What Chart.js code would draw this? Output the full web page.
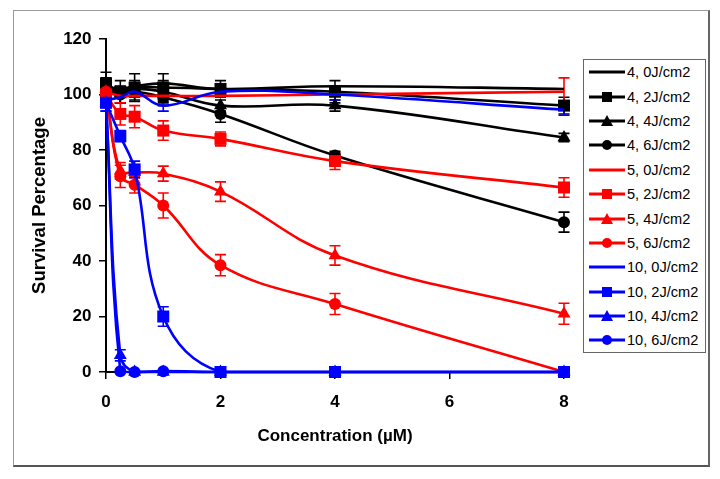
<!DOCTYPE html>
<html>
<head>
<meta charset="utf-8">
<script src="https://cdn.jsdelivr.net/npm/chart.js@4"></script>
<style>
body { margin: 0; background: #fff; }
#wrap { position: relative; width: 720px; height: 479px; }
#frame { position: absolute; left: 13px; top: 10px; width: 694px; height: 454px;
  border: 1px solid #9a9a9a; border-right: 2px solid #666; border-bottom: 2px solid #555; }
#grafico { position: absolute; left: 0; top: 0; }
#legenda { position: absolute; left: 583px; top: 59px; width: 121px; height: 292px;
  border: 1px solid #666; background: #fff;
  font-family: "Liberation Sans", Arial, sans-serif; font-size: 14.6px; color: #000; }
.item { height: 24.4px; display: flex; align-items: center; white-space: nowrap; }
.item svg { margin-left: 5px; margin-right: 2px; flex: none; }
</style>
</head>
<body>
<div id="wrap">
  <div id="frame"></div>
  <canvas id="grafico" width="720" height="479"></canvas>
  <div id="legenda"></div>
</div>
<script>
// concentração (µM)
const conc = [0, 0.25, 0.5, 1, 2, 4, 8]

// sobrevivência (%) por série
const s4_0J = [103, 102, 103, 104, 102, 103, 102]
const s4_2J = [104, 101, 102.5, 102.5, 102, 101, 96]
const s4_4J = [102, 100, 102, 101, 96, 96, 84.5]
const s4_6J = [103, 100, 101, 99, 93, 78, 54]
const s5_0J = [101, 99.5, 99.5, 99.5, 99.5, 100, 101]
const s5_2J = [100, 93, 92, 87, 84, 76, 66.5]
const s5_4J = [101, 72.5, 72, 71.5, 65, 42, 21]
const s5_6J = [101, 70.5, 67.5, 60, 38.5, 24.5, 0]
const s10_0J = [98, 99, 101, 96, 101, 100, 94.5]
const s10_2J = [97, 85, 73, 20, 0, 0, 0]
const s10_4J = [97, 6, 0, 0, 0, 0, 0]
const s10_6J = [97, 0.3, 0, 0.3, 0, 0, 0]

// barras de erro (±)
const e4_0J = [0, 0, 0, 0, 0, 0, 0]
const e4_2J = [4, 4, 5, 5, 3, 4, 3]
const e4_4J = [3, 3, 3, 4, 2, 2, 1.5]
const e4_6J = [3, 3, 3, 3, 3, 1.5, 3.6]
const e5_0J = [0, 0, 0, 0, 0, 0, 5]
const e5_2J = [3, 4, 4, 3.5, 2.5, 3, 3.5]
const e5_4J = [3, 3, 2, 2.7, 3.5, 3.5, 3.8]
const e5_6J = [3, 4, 3, 4.5, 3.8, 3.8, 0]
const e10_0J = [0, 0, 0, 2, 0, 2, 2]
const e10_2J = [3, 2, 3, 3.5, 0, 0, 0]
const e10_4J = [3, 2, 0, 0, 0, 0, 0]
const e10_6J = [0, 0, 0, 0, 0, 0, 0]

const nomes = ["4, 0J/cm2", "4, 2J/cm2", "4, 4J/cm2", "4, 6J/cm2",
               "5, 0J/cm2", "5, 2J/cm2", "5, 4J/cm2", "5, 6J/cm2",
               "10, 0J/cm2", "10, 2J/cm2", "10, 4J/cm2", "10, 6J/cm2"]
const valores = [s4_0J, s4_2J, s4_4J, s4_6J, s5_0J, s5_2J, s5_4J, s5_6J, s10_0J, s10_2J, s10_4J, s10_6J]
const erros = [e4_0J, e4_2J, e4_4J, e4_6J, e5_0J, e5_2J, e5_4J, e5_6J, e10_0J, e10_2J, e10_4J, e10_6J]

const cores = ["#000000", "#ff0000", "#0000ff"]
const marcas = [false, "rect", "triangle", "circle"]
const raios = { rect: 8.5, triangle: 7.5, circle: 6 }

const fonte = '"Liberation Sans", Arial, sans-serif'

const datasets = valores.map((v, i) => {
    const cor = cores[Math.floor(i / 4)]
    const marca = marcas[i % 4]
    return {
        label: nomes[i],
        data: v.map((y, k) => ({ x: conc[k], y })),
        erros: erros[i],
        borderColor: cor,
        backgroundColor: cor,
        borderWidth: 2.6,
        tension: 0.4,
        pointStyle: marca || "circle",
        pointRadius: marca ? raios[marca] : 0,
        pointBorderWidth: 0,
        clip: false,
        order: 11 - i
    }
})

// 📏 barras de erro
const barrasErro = {
    id: "barrasErro",
    beforeDatasetsDraw(chart) {
        const ctx = chart.ctx
        const xs = chart.scales.x
        const ys = chart.scales.y
        chart.data.datasets.forEach(ds => {
            ctx.save()
            ctx.strokeStyle = ds.borderColor
            ctx.lineWidth = 1.6
            ds.data.forEach((p, k) => {
                const e = ds.erros[k]
                if (!e) return
                const x = xs.getPixelForValue(p.x)
                const y1 = ys.getPixelForValue(p.y + e)
                const y2 = ys.getPixelForValue(p.y - e)
                ctx.beginPath()
                ctx.moveTo(x, y1); ctx.lineTo(x, y2)
                ctx.moveTo(x - 5.5, y1); ctx.lineTo(x + 5.5, y1)
                ctx.moveTo(x - 5.5, y2); ctx.lineTo(x + 5.5, y2)
                ctx.stroke()
            })
            ctx.restore()
        })
    }
}

new Chart(document.getElementById("grafico"), {
    type: "line",
    data: { datasets },
    options: {
        responsive: false,
        animation: false,
        layout: { padding: { left: 0, right: 156, top: 39, bottom: 0 } },
        plugins: { legend: { display: false }, tooltip: { enabled: false } },
        scales: {
            x: {
                type: "linear", min: 0, max: 8,
                ticks: { stepSize: 2, color: "#000", padding: 13,
                         font: { family: fonte, size: 17, weight: "bold" } },
                grid: { drawOnChartArea: false, drawTicks: true, tickLength: 7, color: "#000", lineWidth: 1.5 },
                border: { display: true, color: "#000", width: 2 },
                title: { display: true, text: "Concentration (µM)", color: "#000",
                         font: { family: fonte, size: 17, weight: "bold" }, padding: { top: 0, bottom: 32 } },
                afterFit: s => { s.height = 107 }
            },
            y: {
                min: 0, max: 120,
                ticks: { stepSize: 20, color: "#000", padding: 7.5,
                         font: { family: fonte, size: 17, weight: "bold" } },
                grid: { drawOnChartArea: false, drawTicks: true, tickLength: 7, color: "#000", lineWidth: 1.5 },
                border: { display: true, color: "#000", width: 2 },
                title: { display: true, text: "Survival Percentage", color: "#000",
                         font: { family: fonte, size: 18.5, weight: "bold" }, padding: { top: 29, bottom: 0 } },
                afterFit: s => { s.width = 106 }
            }
        }
    },
    plugins: [barrasErro]
})

// 🏷️ legenda
const legenda = document.getElementById("legenda")
datasets.forEach((ds, i) => {
    const marca = marcas[i % 4]
    const cor = ds.borderColor
    let simbolo = ""
    if (marca === "rect") simbolo = `<rect x="13" y="2" width="10" height="10" fill="${cor}"/>`
    if (marca === "triangle") simbolo = `<polygon points="18,1 24,12 12,12" fill="${cor}"/>`
    if (marca === "circle") simbolo = `<circle cx="18" cy="7" r="5" fill="${cor}"/>`
    const div = document.createElement("div")
    div.className = "item"
    div.innerHTML = `<svg width="36" height="14"><line x1="0" y1="7" x2="36" y2="7" stroke="${cor}" stroke-width="3"/>${simbolo}</svg><span>${ds.label}</span>`
    legenda.appendChild(div)
})
</script>
</body>
</html>
